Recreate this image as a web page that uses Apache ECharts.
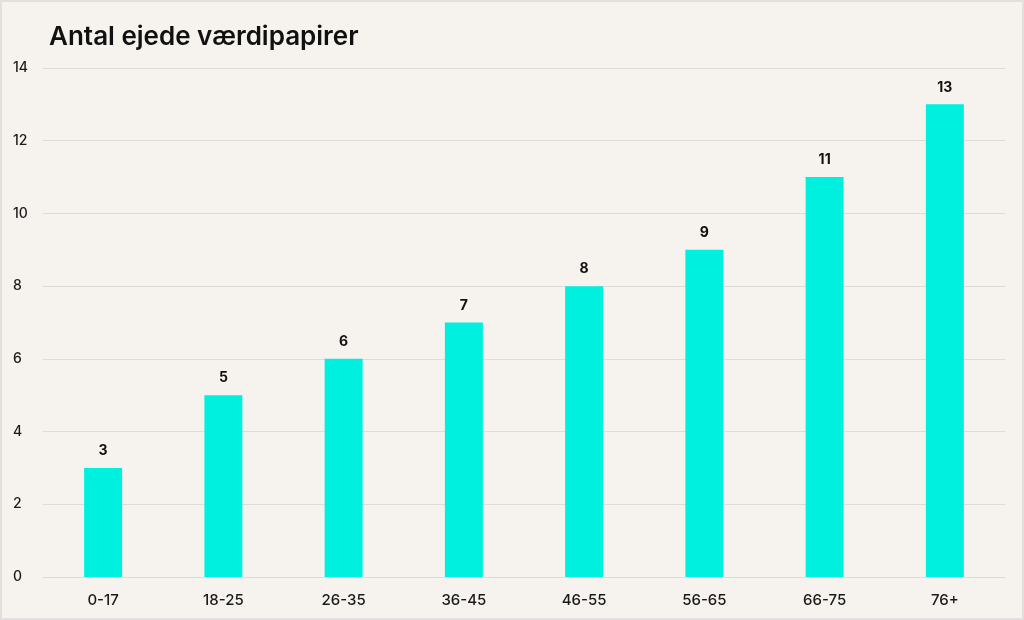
<!DOCTYPE html>
<html><head><meta charset="utf-8">
<script src="https://cdn.jsdelivr.net/npm/echarts@6/dist/echarts.min.js"></script>
<style>html,body{margin:0;padding:0;background:#f6f3ef}
#c{width:1020px;height:616px;border:2px solid #e2e0de;}</style>
</head><body><div id="c"></div>
<script>
const categories = ['0-17','18-25','26-35','36-45','46-55','56-65','66-75','76+'];
const values = [3,5,6,7,8,9,11,13];
const yTicks = {min:0,max:14,interval:2};
const chart = echarts.init(document.getElementById('c'));
chart.setOption({
  backgroundColor:'#f6f3ef',
  animation:false,
  title:{text:'Antal ejede værdipapirer',left:42,top:17,textStyle:{fontFamily:'Inter',fontSize:26,fontWeight:600,color:'#111'}},
  grid:{left:41,right:17,top:66,bottom:41},
  xAxis:{type:'category',data:categories,axisTick:{show:false},axisLine:{lineStyle:{color:'#dedbd8'}},
    axisLabel:{color:'#1a1a1a',fontFamily:'Inter',fontSize:15,fontWeight:500,margin:16}},
  yAxis:{type:'value',min:yTicks.min,max:yTicks.max,interval:yTicks.interval,
    splitLine:{lineStyle:{color:'#dedbd8'}},
    axisLabel:{color:'#1a1a1a',fontFamily:'Inter',fontSize:14,fontWeight:500,margin:0,align:'left',padding:[0,0,0,-30]}},
  series:[{type:'bar',data:values,barWidth:38,itemStyle:{color:'#00f0df'},
    label:{show:true,position:'top',distance:10,color:'#111',fontFamily:'Inter',fontSize:14,fontWeight:700}}]
});
</script></body></html>
